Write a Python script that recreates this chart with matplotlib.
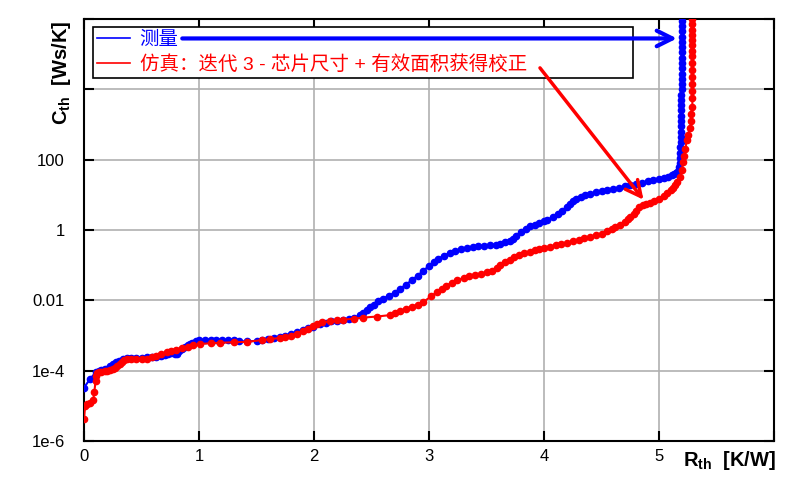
import numpy as np
import matplotlib
matplotlib.use('Agg')
import matplotlib.pyplot as plt
from matplotlib.lines import Line2D
from matplotlib.ticker import FixedLocator, FixedFormatter, NullLocator

plt.rcParams['font.family'] = ['Liberation Sans', 'Noto Sans CJK SC']
plt.rcParams['mathtext.fontset'] = 'custom'
plt.rcParams['mathtext.bf'] = 'Liberation Sans:bold'
plt.rcParams['mathtext.rm'] = 'Liberation Sans:bold'
plt.rcParams['mathtext.default'] = 'bf'

# 測量曲線 (Rth [K/W], log10 Cth [Ws/K])
meas_r = [0.00, 0.05, 0.10, 0.13, 0.15, 0.18, 0.20, 0.23, 0.25, 0.28, 0.30, 0.34, 0.37,
          0.41, 0.45, 0.50, 0.55, 0.59, 0.63, 0.67, 0.70, 0.73, 0.76, 0.79, 0.81, 0.83,
          0.85, 0.88, 0.90, 0.92, 0.94, 0.97, 1.00, 1.05, 1.10, 1.15, 1.20, 1.25, 1.30,
          1.35, 1.42, 1.50, 1.55, 1.60, 1.65, 1.70, 1.75, 1.80, 1.85, 1.90, 1.95, 1.99,
          2.05, 2.10, 2.15, 2.20, 2.25, 2.30, 2.35, 2.40, 2.43, 2.46, 2.49, 2.52, 2.56,
          2.60, 2.65, 2.70, 2.75, 2.80, 2.85, 2.90, 2.95, 3.00, 3.04, 3.08, 3.13, 3.18,
          3.23, 3.28, 3.33, 3.38, 3.43, 3.48, 3.53, 3.58, 3.62, 3.66, 3.70, 3.73, 3.76,
          3.80, 3.84, 3.88, 3.92, 3.96, 4.00, 4.03, 4.08, 4.12, 4.16, 4.20, 4.23, 4.25,
          4.28, 4.32, 4.36, 4.40, 4.45, 4.50, 4.55, 4.60, 4.65, 4.70, 4.75, 4.80, 4.85,
          4.90, 4.95, 5.00, 5.04, 5.08, 5.11, 5.13, 5.15, 5.16, 5.17, 5.18, 5.18, 5.18,
          5.18, 5.19, 5.19, 5.19, 5.19, 5.19, 5.19, 5.19, 5.19, 5.19, 5.19, 5.20, 5.20,
          5.20, 5.20, 5.20, 5.20, 5.20, 5.20, 5.20, 5.20, 5.20, 5.20, 5.20, 5.20, 5.20]
meas_lgc = [-4.48, -4.25, -4.05, -4.02, -3.98, -3.96, -3.95, -3.86, -3.80, -3.76, -3.72, -3.67, -3.64,
            -3.64, -3.63, -3.63, -3.62, -3.61, -3.60, -3.58, -3.55, -3.53, -3.50, -3.52, -3.52, -3.45,
            -3.38, -3.32, -3.28, -3.24, -3.20, -3.17, -3.14, -3.12, -3.12, -3.13, -3.13, -3.13, -3.14,
            -3.16, -3.17, -3.15, -3.13, -3.10, -3.07, -3.04, -3.00, -2.95, -2.90, -2.85, -2.80, -2.75,
            -2.68, -2.64, -2.60, -2.58, -2.55, -2.53, -2.50, -2.42, -2.35, -2.28, -2.20, -2.12, -2.03,
            -1.95, -1.87, -1.78, -1.67, -1.55, -1.43, -1.30, -1.16, -1.02, -0.92, -0.82, -0.73, -0.65,
            -0.60, -0.55, -0.51, -0.48, -0.46, -0.45, -0.44, -0.42, -0.39, -0.35, -0.30, -0.25, -0.16,
            -0.06, 0.03, 0.10, 0.15, 0.20, 0.25, 0.29, 0.37, 0.45, 0.55, 0.65, 0.74, 0.82,
            0.89, 0.95, 0.99, 1.03, 1.07, 1.10, 1.13, 1.17, 1.20, 1.24, 1.27, 1.31, 1.34,
            1.38, 1.41, 1.45, 1.48, 1.52, 1.55, 1.58, 1.62, 1.65, 1.78, 1.90, 2.05, 2.20,
            2.35, 2.50, 2.65, 2.80, 2.95, 3.10, 3.25, 3.40, 3.55, 3.70, 3.85, 4.00, 4.15,
            4.30, 4.45, 4.60, 4.75, 4.90, 5.05, 5.20, 5.35, 5.50, 5.65, 5.80, 5.95, 6.10]

# 仿真曲線
sim_r = [0.00, 0.01, 0.03, 0.05, 0.08, 0.09, 0.10, 0.105, 0.11, 0.13, 0.15, 0.18, 0.20,
         0.23, 0.25, 0.27, 0.29, 0.31, 0.33, 0.35, 0.37, 0.41, 0.45, 0.50, 0.55, 0.59,
         0.63, 0.67, 0.72, 0.76, 0.80, 0.85, 0.90, 0.95, 1.01, 1.10, 1.18, 1.30, 1.42,
         1.55, 1.62, 1.70, 1.75, 1.80, 1.85, 1.90, 1.95, 1.99, 2.03, 2.07, 2.14, 2.20,
         2.25, 2.35, 2.43, 2.55, 2.66, 2.70, 2.75, 2.80, 2.85, 2.90, 2.95, 3.02, 3.07,
         3.11, 3.15, 3.20, 3.24, 3.30, 3.35, 3.40, 3.45, 3.50, 3.55, 3.59, 3.62, 3.66,
         3.70, 3.74, 3.78, 3.83, 3.88, 3.92, 3.96, 4.00, 4.05, 4.10, 4.15, 4.20, 4.25,
         4.30, 4.35, 4.40, 4.45, 4.50, 4.55, 4.59, 4.62, 4.66, 4.70, 4.73, 4.75, 4.78,
         4.80, 4.83, 4.86, 4.89, 4.92, 4.96, 5.00, 5.04, 5.07, 5.10, 5.12, 5.14, 5.16,
         5.18, 5.20, 5.21, 5.22, 5.23, 5.24, 5.25, 5.27, 5.28, 5.28, 5.29, 5.29, 5.29,
         5.29, 5.29, 5.29, 5.29, 5.29, 5.29, 5.29, 5.29, 5.29, 5.29, 5.29, 5.29, 5.29,
         5.29, 5.29]
sim_lgc = [-5.37, -5.00, -4.96, -4.92, -4.83, -4.60, -4.30, -4.15, -4.07, -4.04, -4.03, -4.02, -4.02,
           -3.98, -3.95, -3.92, -3.88, -3.82, -3.75, -3.70, -3.67, -3.66, -3.66, -3.66, -3.66, -3.62,
           -3.58, -3.52, -3.47, -3.43, -3.40, -3.36, -3.33, -3.28, -3.24, -3.22, -3.21, -3.19, -3.18,
           -3.13, -3.10, -3.07, -3.04, -3.00, -2.95, -2.88, -2.81, -2.74, -2.68, -2.63, -2.59, -2.57,
           -2.55, -2.52, -2.49, -2.46, -2.42, -2.37, -2.30, -2.24, -2.18, -2.12, -2.05, -1.88, -1.76,
           -1.67, -1.58, -1.50, -1.42, -1.37, -1.32, -1.28, -1.25, -1.20, -1.16, -1.08, -1.00, -0.92,
           -0.85, -0.78, -0.72, -0.66, -0.62, -0.58, -0.55, -0.52, -0.48, -0.44, -0.40, -0.36, -0.32,
           -0.28, -0.24, -0.20, -0.15, -0.10, -0.04, 0.02, 0.08, 0.15, 0.22, 0.30, 0.37, 0.46,
           0.55, 0.65, 0.72, 0.75, 0.78, 0.82, 0.88, 0.96, 1.06, 1.13, 1.20, 1.28, 1.37,
           1.52, 1.70, 1.94, 2.10, 2.30, 2.55, 2.70, 2.90, 3.10, 3.30, 3.50, 3.76, 3.95,
           4.15, 4.35, 4.55, 4.75, 4.95, 5.10, 5.25, 5.40, 5.55, 5.70, 5.85, 6.00, 6.10,
           6.10, 6.10]

labels = ['测量', '仿真：迭代 3 - 芯片尺寸 + 有效面积获得校正']
yticks = [1e-6, 1e-4, 1e-2, 1, 1e2, 1e4, 1e6]
ytick_labels = ['1e-6', '1e-4', '0.01', '1', '100', '', '']
xticks = [0, 1, 2, 3, 4, 5, 6]
xtick_labels = ['0', '1', '2', '3', '4', '5', '']

fig = plt.figure(figsize=(8.01, 4.90), dpi=100)
ax = fig.add_axes([0.1049, 0.1, 0.8614, 0.8612])

ax.plot(meas_r, 10.0 ** np.array(meas_lgc), '-o', color='#0000ff', lw=1.5, ms=4.5, zorder=3)
ax.plot(sim_r, 10.0 ** np.array(sim_lgc), '-o', color='#ff0000', lw=1.5, ms=4.5, zorder=3)

ax.set_yscale('log')
ax.set_xlim(0, 6)
ax.set_ylim(1e-6, 1e6)
ax.yaxis.set_major_locator(FixedLocator(yticks))
ax.yaxis.set_major_formatter(FixedFormatter(ytick_labels))
ax.yaxis.set_minor_locator(NullLocator())
ax.xaxis.set_major_locator(FixedLocator(xticks))
ax.xaxis.set_major_formatter(FixedFormatter(xtick_labels))

ax.grid(True, color='#b0b0b0', lw=1.2)
ax.set_axisbelow(True)
for s in ax.spines.values():
    s.set_linewidth(1.5)
ax.tick_params(axis='both', direction='in', top=True, right=True, length=7, width=1.5,
               labelsize=12)
ax.tick_params(axis='y', pad=14)
ax.tick_params(axis='x', pad=6)

# 軸標籤
ax.text(0.868, -0.059, r'$R_{th}$  [K/W]', transform=ax.transAxes, fontsize=14.5,
        fontweight='bold', ha='left', va='baseline')
ax.text(-0.0246, 0.749, r'$C_{th}$  [Ws/K]', transform=ax.transAxes, fontsize=14.5,
        fontweight='bold', ha='left', va='baseline', rotation=90, rotation_mode='anchor')

# 圖例
handles = [Line2D([], [], color='#0000ff', lw=1.2), Line2D([], [], color='#ff0000', lw=1.2)]
leg = ax.legend(handles, labels, loc='upper left', bbox_to_anchor=(0.013, 0.863, 0.783, 0.118),
                mode='expand', borderaxespad=0, fontsize=14, labelcolor='linecolor',
                fancybox=False, framealpha=1, edgecolor='black', handlelength=1.7,
                handletextpad=0.5, labelspacing=0.35, borderpad=0.2)
leg.get_frame().set_linewidth(1.2)

# 箭頭
ax.annotate('', xy=(5.18, 2.8e5), xytext=(0.83, 2.8e5),
            arrowprops=dict(arrowstyle='->', color='#0000ff', lw=3, mutation_scale=28),
            zorder=6)
ax.annotate('', xy=(4.88, 6.3), xytext=(3.95, 4.7e4),
            arrowprops=dict(arrowstyle='->', color='#ff0000', lw=2.5, mutation_scale=28),
            zorder=6)

fig.savefig('out.png', dpi=100)
